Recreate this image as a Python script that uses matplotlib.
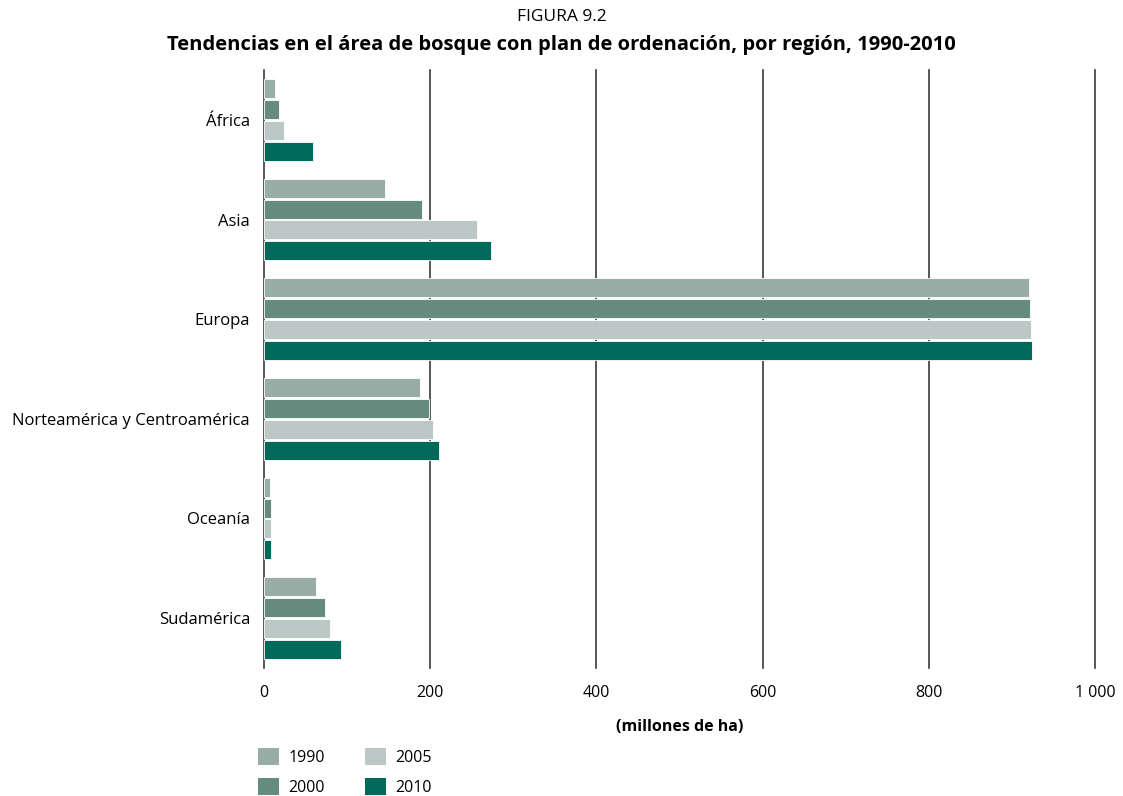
import numpy as np
import matplotlib.pyplot as plt
from matplotlib.patches import Patch

plt.rcParams['font.family'] = ['Open Sans', 'DejaVu Sans']

regiones = ['África', 'Asia', 'Europa', 'Norteamérica y Centroamérica', 'Oceanía', 'Sudamérica']
anios = ['1990', '2000', '2005', '2010']
v1990 = [13.6, 146, 921, 188, 6.8, 62.6]
v2000 = [17.6, 190, 922, 198, 8.0, 74]
v2005 = [23.6, 256, 923, 203, 8.0, 79]
v2010 = [58.6, 273, 924, 210, 8.0, 93]
colores = ['#98ada5', '#668c80', '#bcc8c5', '#006a5a']
xticks = [0, 200, 400, 600, 800, 1000]
xticklabels = ['0', '200', '400', '600', '800', '1 000']

fig = plt.figure(figsize=(11.23, 7.96), dpi=100)
ax = fig.add_axes([264 / 1123, 1 - 668 / 796, 831 / 1123, 598 / 796])

y = np.arange(len(regiones))
series = [v1990, v2000, v2005, v2010]
for j, (vals, c) in enumerate(zip(series, colores)):
    ax.barh(y + (j - 1.5) * 0.21, vals, height=0.19, color=c,
            edgecolor='white', linewidth=0.6, zorder=3)

for xt in xticks:
    ax.axvline(xt, color='#3a3a3a', lw=1.2, zorder=1, clip_on=False)

ax.set_xlim(0, 1000)
ax.set_ylim(5.5, -0.5)
ax.set_yticks(y)
ax.set_yticklabels(regiones, fontsize=12)
ax.set_xticks(xticks)
ax.set_xticklabels(xticklabels, fontsize=11.5)
ax.tick_params(axis='both', length=0)
ax.tick_params(axis='x', pad=12)
ax.tick_params(axis='y', pad=10)
for s in ax.spines.values():
    s.set_visible(False)

ax.set_xlabel('(millones de ha)', fontsize=11.5, fontweight='bold', labelpad=13)

fig.text(0.5, 1 - 17 / 796, 'FIGURA 9.2', ha='center', va='center', fontsize=12.5)
fig.text(0.5, 1 - 45 / 796,
         'Tendencias en el área de bosque con plan de ordenación, por región, 1990-2010',
         ha='center', va='center', fontsize=14.5, fontweight='bold')

handles = [Patch(facecolor=c, edgecolor='none', label=a) for a, c in zip(anios, colores)]
fig.legend(handles=handles, ncol=2, loc='upper left',
           bbox_to_anchor=(250 / 1123, 1 - 740 / 796), frameon=False,
           fontsize=11.5, handlelength=1.3, handleheight=1.3,
           handletextpad=0.6, columnspacing=2.5, labelspacing=0.75, borderpad=0)

fig.savefig('out.png', dpi=100)
